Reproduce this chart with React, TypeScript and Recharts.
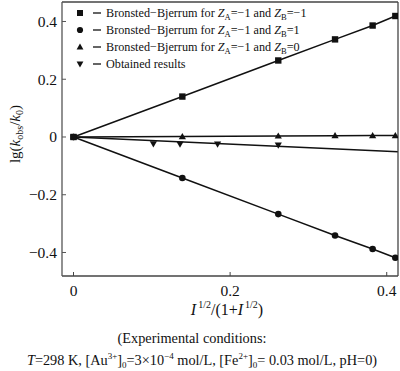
import React from 'react';
import { ComposedChart, Line, Scatter, XAxis, YAxis, Legend } from 'recharts';

// x values: I^(1/2)/(1+I^(1/2))
const xBB = [0, 0.139, 0.2615, 0.334, 0.382, 0.411];
const yBBm1m1 = [0, 0.14, 0.265, 0.338, 0.386, 0.419];
const yBBm1p1 = [0, -0.142, -0.267, -0.341, -0.388, -0.418];
const yBBm10 = [0, 0.0015, 0.0035, 0.0045, 0.005, 0.005];
const xObt = [0, 0.102, 0.136, 0.184, 0.2615];
const yObt = [0, -0.024, -0.025, -0.025, -0.028];
const xObtFit = [0, 0.4144];
const yObtFit = [0, -0.051];

const xTicks = [0, 0.2, 0.4];
const yTicks = [-0.4, -0.2, 0, 0.2, 0.4];
const xDomain = [-0.0147, 0.4144];
const yDomain = [-0.4814, 0.4675];

const zip = (xs: number[], ys: number[]) => xs.map((x, i) => ({ x, y: ys[i] }));
const dSq = zip(xBB, yBBm1m1);
const dCi = zip(xBB, yBBm1p1);
const dTr = zip(xBB, yBBm10);
const dObt = zip(xObt, yObt);
const dObtFit = zip(xObtFit, yObtFit);

const FONT = '"Liberation Serif", "DejaVu Serif", serif';
const INK = '#111';

const Square = (p: any) => (p.cx == null ? null : <rect key={p.index} x={p.cx - 3.2} y={p.cy - 3.2} width={6.4} height={6.4} fill={INK} />);
const Circle = (p: any) => (p.cx == null ? null : <circle key={p.index} cx={p.cx} cy={p.cy} r={3.3} fill={INK} />);
const TriUp = (p: any) => (p.cx == null ? null : <path key={p.index} d={`M${p.cx},${p.cy - 3.6}L${p.cx + 3.6},${p.cy + 2.6}L${p.cx - 3.6},${p.cy + 2.6}Z`} fill={INK} />);
const TriDown = (p: any) => (p.cx == null ? null : <path d={`M${p.cx},${p.cy + 3.6}L${p.cx + 3.6},${p.cy - 2.6}L${p.cx - 3.6},${p.cy - 2.6}Z`} fill={INK} />);

const ZText = ({ b }: { b: string }) => (
  <>
    <tspan>Bronsted−Bjerrum for </tspan>
    <tspan fontStyle="italic">Z</tspan>
    <tspan fontSize={8.5} dy={3}>A</tspan>
    <tspan dy={-3}>=−1 and </tspan>
    <tspan fontStyle="italic">Z</tspan>
    <tspan fontSize={8.5} dy={3}>B</tspan>
    <tspan dy={-3}>={b}</tspan>
  </>
);

const legendRows = [
  { shape: 'sq', label: <ZText b="−1" /> },
  { shape: 'ci', label: <ZText b="1" /> },
  { shape: 'tu', label: <ZText b="0" /> },
  { shape: 'td', label: <tspan>Obtained results</tspan> },
];

const LegendContent = () => (
  <svg width={250} height={70} style={{ overflow: 'visible' }}>
    {legendRows.map((r, i) => {
      const cy = 9 + i * 17;
      const cx = 8;
      let m: any = null;
      if (r.shape === 'sq') m = <rect x={cx - 3} y={cy - 3} width={6} height={6} fill={INK} />;
      if (r.shape === 'ci') m = <circle cx={cx} cy={cy} r={3.1} fill={INK} />;
      if (r.shape === 'tu') m = <path d={`M${cx},${cy - 3.4}L${cx + 3.4},${cy + 2.6}L${cx - 3.4},${cy + 2.6}Z`} fill={INK} />;
      if (r.shape === 'td') m = <path d={`M${cx},${cy + 3.4}L${cx + 3.4},${cy - 2.6}L${cx - 3.4},${cy - 2.6}Z`} fill={INK} />;
      return (
        <g key={i}>
          {m}
          <line x1={21} x2={29} y1={cy} y2={cy} stroke={INK} strokeWidth={1.3} />
          <text x={34} y={cy + 4} fontFamily={FONT} fontSize={12.2} fill={INK}>
            {r.label}
          </text>
        </g>
      );
    })}
  </svg>
);

export default function App() {
  return (
    <div style={{ position: 'absolute', left: 0, top: 0, width: 400, height: 371, background: '#fff' }}>
      <ComposedChart width={400} height={371} margin={{ top: 1, right: 1, bottom: 94, left: 61 }}>
        <XAxis
          type="number"
          dataKey="x"
          domain={xDomain}
          ticks={xTicks}
          allowDataOverflow
          height={1}
          tickSize={-4}
          tickMargin={13}
          tickFormatter={(v: number) => String(v)}
          tick={{ fontFamily: FONT, fontSize: 15.5, fill: INK }}
          stroke="#444"
          axisLine={{ stroke: '#444', strokeWidth: 1.3 }}
          tickLine={{ stroke: '#444' }}
        />
        <XAxis xAxisId="top" orientation="top" type="number" domain={xDomain} height={1} tick={false} tickLine={false} axisLine={{ stroke: '#444', strokeWidth: 1.3 }} />
        <YAxis
          type="number"
          dataKey="y"
          domain={yDomain}
          ticks={yTicks}
          allowDataOverflow
          width={1}
          tickSize={-4}
          tickMargin={9}
          tickFormatter={(v: number) => (v < 0 ? '−' + String(Math.abs(v)) : String(v))}
          tick={{ fontFamily: FONT, fontSize: 15.5, fill: INK }}
          axisLine={{ stroke: '#555', strokeWidth: 1.3 }}
          tickLine={{ stroke: '#555' }}
        />
        <YAxis yAxisId="right" orientation="right" type="number" domain={yDomain} width={1} tick={false} tickLine={false} axisLine={{ stroke: '#444', strokeWidth: 1.3 }} />
        <Legend layout="vertical" align="center" verticalAlign="middle" wrapperStyle={{ left: 72, top: 4, width: 250, height: 70 }} content={LegendContent} />
        <Line data={dObtFit} dataKey="y" type="linear" stroke={INK} strokeWidth={1.5} dot={false} isAnimationActive={false} legendType="none" />
        <Line data={dTr} dataKey="y" type="linear" stroke={INK} strokeWidth={1.5} dot={TriUp} isAnimationActive={false} />
        <Scatter data={dObt} dataKey="y" fill={INK} shape={TriDown} isAnimationActive={false} />
        <Line data={dCi} dataKey="y" type="linear" stroke={INK} strokeWidth={1.5} dot={Circle} isAnimationActive={false} />
        <Line data={dSq} dataKey="y" type="linear" stroke={INK} strokeWidth={1.5} dot={Square} isAnimationActive={false} />
      </ComposedChart>
      <svg width={400} height={371} style={{ position: 'absolute', left: 0, top: 0, pointerEvents: 'none' }} fontFamily={FONT} fill={INK}>
        <text transform="translate(20,134) rotate(-90)" textAnchor="middle" fontSize={15}>
          <tspan>lg(</tspan>
          <tspan fontStyle="italic">k</tspan>
          <tspan fontSize={10} dy={3}>obs</tspan>
          <tspan dy={-3}>/</tspan>
          <tspan fontStyle="italic">k</tspan>
          <tspan fontSize={10} dy={3}>0</tspan>
          <tspan dy={-3}>)</tspan>
        </text>
        <text x={227} y={315} textAnchor="middle" fontSize={16}>
          <tspan fontStyle="italic">I</tspan>
          <tspan fontSize={10} dx={2} dy={-7}>1/2</tspan>
          <tspan dy={7}>/(1+</tspan>
          <tspan fontStyle="italic">I</tspan>
          <tspan fontSize={10} dx={2} dy={-7}>1/2</tspan>
          <tspan dy={7}>)</tspan>
        </text>
        <text x={192} y={343} textAnchor="middle" fontSize={14.3}>(Experimental conditions:</text>
        <text x={202} y={365} textAnchor="middle" fontSize={14.3}>
          <tspan fontStyle="italic">T</tspan>
          <tspan>=298 K, [Au</tspan>
          <tspan fontSize={9} dy={-6}>3+</tspan>
          <tspan dy={6}>]</tspan>
          <tspan fontSize={9} dy={3}>0</tspan>
          <tspan dy={-3}>=3×10</tspan>
          <tspan fontSize={9} dy={-6}>−4</tspan>
          <tspan dy={6}> mol/L, [Fe</tspan>
          <tspan fontSize={9} dy={-6}>2+</tspan>
          <tspan dy={6}>]</tspan>
          <tspan fontSize={9} dy={3}>0</tspan>
          <tspan dy={-3}>= 0.03 mol/L, pH=0)</tspan>
        </text>
      </svg>
    </div>
  );
}
